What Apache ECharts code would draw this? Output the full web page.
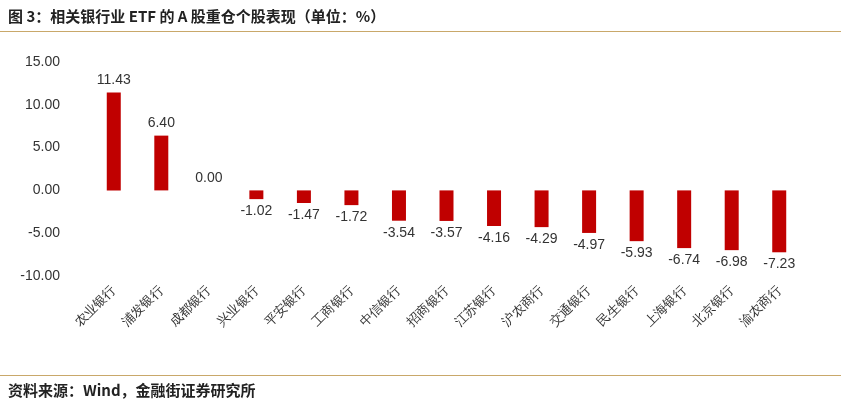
<!DOCTYPE html>
<html><head><meta charset="utf-8">
<script src="https://cdn.jsdelivr.net/npm/echarts@6/dist/echarts.min.js"></script>
<style>
body{margin:0;background:#fff;font-family:"Noto Sans CJK SC",sans-serif}
#t{position:absolute;left:8px;top:5px;font-size:15px;font-weight:bold;color:#222}
#l1{position:absolute;left:0;top:31px;width:841px;height:1px;background:#c9a86a}
#l2{position:absolute;left:0;top:375px;width:841px;height:1px;background:#c9a86a}
#s{position:absolute;left:8px;top:379px;font-size:15px;font-weight:bold;color:#222}
#c{position:absolute;left:0;top:0;width:841px;height:407px}
</style></head><body>
<div id="c"></div>
<div id="t">图 3：相关银行业 ETF 的 A 股重仓个股表现（单位：%）</div>
<div id="l1"></div><div id="l2"></div>
<div id="s">资料来源：Wind，金融街证券研究所</div>
<script>
const banks = ["农业银行","浦发银行","成都银行","兴业银行","平安银行","工商银行","中信银行","招商银行","江苏银行","沪农商行","交通银行","民生银行","上海银行","北京银行","渝农商行"];
const returns = [11.43,6.40,0.00,-1.02,-1.47,-1.72,-3.54,-3.57,-4.16,-4.29,-4.97,-5.93,-6.74,-6.98,-7.23];

const chart = echarts.init(document.getElementById("c"));
chart.setOption({
  animation: false,
  grid: { left: 90, right: 38, top: 62, bottom: 131 },
  xAxis: {
    type: "category", data: banks,
    axisLine: { show: false, onZero: false }, axisTick: { show: false },
    axisLabel: { rotate: 45, color: "#333", fontSize: 13, margin: 12, interval: 0 }
  },
  yAxis: {
    type: "value", min: -10, max: 15, interval: 5,
    splitLine: { show: false }, axisLine: { show: false }, axisTick: { show: false },
    axisLabel: { color: "#333", fontSize: 14, formatter: v => v.toFixed(2), margin: 30 }
  },
  series: [{
    type: "bar", barWidth: 14,
    itemStyle: { color: "#c00000" },
    label: { show: true, color: "#333", fontSize: 14, formatter: p => p.value.toFixed(2) },
    data: returns.map(v => ({ value: v, label: { position: v < 0 ? "bottom" : "top" } }))
  }]
});
</script>
</body></html>
